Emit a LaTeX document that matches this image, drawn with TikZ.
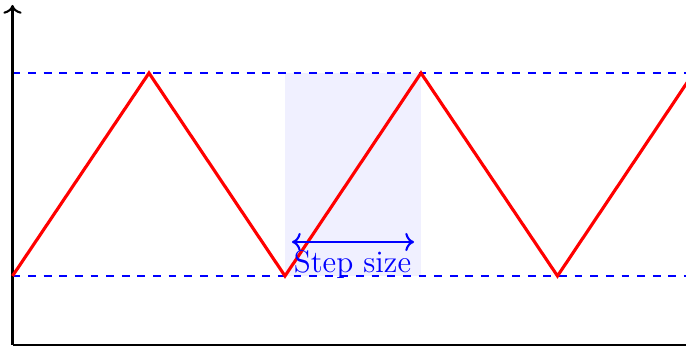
\documentclass[tikz,border=0pt]{standalone}
\usepackage{xcolor}
\usepackage{tikz}
\usetikzlibrary{arrows.meta}

\begin{document}
\begin{tikzpicture}[x=0.0135cm,y=0.0135cm,
  axis/.style={thick,black},
  level/.style={thick,dashed,blue},
  wave/.style={very thick,red,line join=miter},
  span/.style={<->,thick,blue}]

  \useasboundingbox (-12.5,-7) rectangle (673.5,345);
  \clip (-12.5,-7) rectangle (673.5,345);

  % shaded step
  \fill[blue!6] (272.5,69) rectangle (408.5,272);

  % levels
  \draw[level] (0,272) -- (673.5,272);
  \draw[level] (0,69) -- (673.5,69);

  % axes
  \coordinate (o) at (0,0);
  \coordinate (ytop) at (0,340);
  \coordinate (xend) at (673.5,0);
  \draw[axis,->] (o) -- (ytop);
  \draw[axis] (o) -- (xend);

  % triangle wave
  \draw[wave] (0,69) -- (136.5,272) -- (272.5,69) -- (408.5,272)
              -- (545,69) -- (681,272);

  % step size
  \coordinate (sa) at (279.5,103);
  \coordinate (sb) at (401.5,103);
  \draw[span] (sa) -- (sb);
  \node[text=blue,inner sep=1pt,font=\large] (lbl) at (340,80) {Step size};
\end{tikzpicture}
\end{document}
